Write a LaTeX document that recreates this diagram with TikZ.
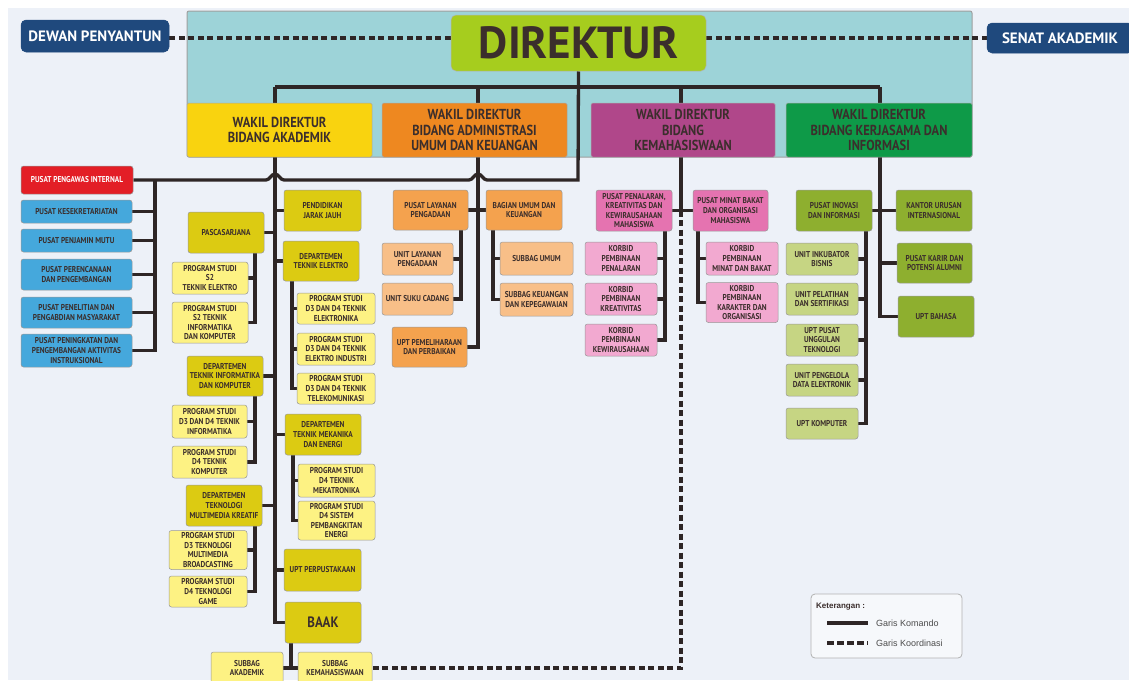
\documentclass[tikz,border=0pt]{standalone}
\usepackage{fontspec}
\setmainfont{PT Sans}
\newfontfamily\cf{PT Sans}[FakeStretch=0.86]
\newfontfamily\lf{Liberation Sans}
\usetikzlibrary{calc}
\pgfdeclarelayer{bg}
\pgfdeclarelayer{lines}
\pgfsetlayers{bg,lines,main}
\definecolor{bgc}{HTML}{EDF1F8}
\definecolor{cyanbg}{HTML}{9DD3D8}
\definecolor{lime}{HTML}{A6CD1E}
\definecolor{navy}{HTML}{1F497D}
\definecolor{wya}{HTML}{F9D30F}
\definecolor{wor}{HTML}{EE8820}
\definecolor{wmg}{HTML}{B0478A}
\definecolor{wgr}{HTML}{0E9A48}
\definecolor{redb}{HTML}{E31E26}
\definecolor{blueb}{HTML}{45A8DC}
\definecolor{dyel}{HTML}{DCCB12}
\definecolor{lyel}{HTML}{FDF283}
\definecolor{mor}{HTML}{F4A24E}
\definecolor{lor}{HTML}{F8BF88}
\definecolor{mpk}{HTML}{E573B0}
\definecolor{lpk}{HTML}{F2A9D0}
\definecolor{olv}{HTML}{8EAF2F}
\definecolor{lolv}{HTML}{C6D583}
\definecolor{txt}{HTML}{3B2E2C}
\definecolor{ln}{HTML}{2E2626}
\tikzset{
  box/.style={rounded corners=2.5pt, draw=black!40, line width=0.5pt, align=center,
    inner sep=0.5pt, font=\cf\bfseries\fontsize{8.5}{9.6}\selectfont, text=txt},
  wak/.style={box, rounded corners=1.5pt, draw=black!35, font=\cf\bfseries\fontsize{14.5}{15.5}\selectfont},
  wh/.style 2 args={minimum width=#1pt, minimum height=#2pt},
  cmd/.style={draw=ln, line width=3.3pt},
  koord/.style={draw=ln, line width=3.3pt, dash pattern=on 6pt off 3.5pt},
}
\begin{document}
\begin{tikzpicture}[x=1pt,y=-1pt]
\useasboundingbox (0,0) rectangle (1129,680);
\begin{pgfonlayer}{bg}
\fill[bgc] (8,8) rectangle (1129,680);
\draw[fill=cyanbg, draw=gray!75, line width=1pt, rounded corners=2pt] (187,11) rectangle (972,157);
\end{pgfonlayer}

% top level
\node[box, rounded corners=5pt, fill=navy, draw=navy, text=white, font=\bfseries\fontsize{15}{16}\selectfont, wh={148}{32}] (dewan) at (95,36) {DEWAN PENYANTUN};
\node[box, rounded corners=5pt, fill=navy, draw=navy, text=white, font=\bfseries\fontsize{15}{16}\selectfont, wh={146}{30}] (senat) at (1060,38) {SENAT AKADEMIK};
\node[box, rounded corners=5pt, fill=lime, draw=black!30, font=\bfseries\fontsize{45}{48}\selectfont, wh={255}{56}] (dir) at (578.5,43) {DIREKTUR};

\node[wak, fill=wya, wh={185}{54}] (wakA) at (279.5,130) {WAKIL DIREKTUR\\BIDANG AKADEMIK};
\node[wak, fill=wor, wh={185}{54}] (wakB) at (474.5,130) {WAKIL DIREKTUR\\BIDANG ADMINISTRASI\\UMUM DAN KEUANGAN};
\node[wak, fill=wmg, wh={184}{54}] (wakC) at (683,130) {WAKIL DIREKTUR\\BIDANG\\KEMAHASISWAAN};
\node[wak, fill=wgr, wh={186}{54}] (wakD) at (879,130) {WAKIL DIREKTUR\\BIDANG KERJASAMA DAN\\INFORMASI};

% left blue column
\node[box, fill=redb, text=white, wh={112}{28}] (pwi) at (77,180) {PUSAT PENGAWAS INTERNAL};
\node[box, fill=blueb, wh={111}{23}] (kes) at (76.5,211.5) {PUSAT KESEKRETARIATAN};
\node[box, fill=blueb, wh={111}{23}] (mutu) at (76.5,240.5) {PUSAT PENJAMIN MUTU};
\node[box, fill=blueb, wh={111}{31}] (ren) at (76.5,274.5) {PUSAT PERENCANAAN\\DAN PENGEMBANGAN};
\node[box, fill=blueb, wh={111}{31}] (lit) at (76.5,312.5) {PUSAT PENELITIAN DAN\\PENGABDIAN MASYARAKAT};
\node[box, fill=blueb, wh={111}{33}] (ppai) at (76.5,350.5) {PUSAT PENINGKATAN DAN\\PENGEMBANGAN AKTIVITAS\\INSTRUKSIONAL};

% akademik
\node[box, fill=dyel, wh={76}{41}] (pasca) at (226,232.5) {PASCASARJANA};
\node[box, fill=lyel, wh={76}{32}] (ps1) at (210,278) {PROGRAM STUDI\\S2\\TEKNIK ELEKTRO};
\node[box, fill=lyel, wh={76}{41}] (ps2) at (210,322.5) {PROGRAM STUDI\\S2 TEKNIK\\INFORMATIKA\\DAN KOMPUTER};
\node[box, fill=dyel, wh={76}{40}] (dtik) at (225,376) {DEPARTEMEN\\TEKNIK INFORMATIKA\\DAN KOMPUTER};
\node[box, fill=lyel, wh={75}{33}] (ps3) at (209.5,421.5) {PROGRAM STUDI\\D3 DAN D4 TEKNIK\\INFORMATIKA};
\node[box, fill=lyel, wh={75}{32}] (ps4) at (209.5,462) {PROGRAM STUDI\\D4 TEKNIK\\KOMPUTER};
\node[box, fill=dyel, wh={76}{41}] (dtmk) at (224,505.5) {DEPARTEMEN\\TEKNOLOGI\\MULTIMEDIA KREATIF};
\node[box, fill=lyel, wh={78}{39}] (ps5) at (208,550) {PROGRAM STUDI\\D3 TEKNOLOGI\\MULTIMEDIA\\BROADCASTING};
\node[box, fill=lyel, wh={78}{31}] (ps6) at (208,591.5) {PROGRAM STUDI\\D4 TEKNOLOGI\\GAME};
\node[box, fill=dyel, wh={77}{41}] (pjj) at (322.5,210.5) {PENDIDIKAN\\JARAK JAUH};
\node[box, fill=dyel, wh={76}{40}] (dte) at (321,261) {DEPARTEMEN\\TEKNIK ELEKTRO};
\node[box, fill=lyel, wh={78}{31}] (ps7) at (336,308.5) {PROGRAM STUDI\\D3 DAN D4 TEKNIK\\ELEKTRONIKA};
\node[box, fill=lyel, wh={78}{32}] (ps8) at (336,349) {PROGRAM STUDI\\D3 DAN D4 TEKNIK\\ELEKTRO INDUSTRI};
\node[box, fill=lyel, wh={78}{31}] (ps9) at (336,388.5) {PROGRAM STUDI\\D3 DAN D4 TEKNIK\\TELEKOMUNIKASI};
\node[box, fill=dyel, wh={76}{41}] (dtme) at (323,434.5) {DEPARTEMEN\\TEKNIK MEKANIKA\\DAN ENERGI};
\node[box, fill=lyel, wh={77}{33}] (ps10) at (336.5,480.5) {PROGRAM STUDI\\D4 TEKNIK\\MEKATRONIKA};
\node[box, fill=lyel, wh={77}{39}] (ps11) at (336.5,520.5) {PROGRAM STUDI\\D4 SISTEM\\PEMBANGKITAN\\ENERGI};
\node[box, fill=dyel, wh={77}{42}] (perpus) at (322.5,570) {UPT PERPUSTAKAAN};
\node[box, fill=dyel, wh={76}{41}, font=\cf\bfseries\fontsize{15}{16}\selectfont] (baak) at (323,622.5) {BAAK};
\node[box, fill=lyel, wh={72}{32}] (sbak) at (247,668) {SUBBAG\\AKADEMIK};
\node[box, fill=lyel, wh={74}{32}] (sbkm) at (335,668) {SUBBAG\\KEMAHASISWAAN};

% administrasi
\node[box, fill=mor, wh={75}{40}] (plp) at (430.5,210) {PUSAT LAYANAN\\PENGADAAN};
\node[box, fill=mor, wh={76}{40}] (bauk) at (524,210) {BAGIAN UMUM DAN\\KEUANGAN};
\node[box, fill=lor, wh={71}{32}] (ulp) at (417.5,259) {UNIT LAYANAN\\PENGADAAN};
\node[box, fill=lor, wh={71}{32}] (usc) at (417.5,299) {UNIT SUKU CADANG};
\node[box, fill=mor, wh={75}{40}] (upp) at (429.5,347) {UPT PEMELIHARAAN\\DAN PERBAIKAN};
\node[box, fill=lor, wh={73}{33}] (sbu) at (536.5,258.5) {SUBBAG UMUM};
\node[box, fill=lor, wh={73}{33}] (sbkk) at (536.5,299.5) {SUBBAG KEUANGAN\\DAN KEPEGAWAIAN};

% kemahasiswaan
\node[box, fill=mpk, wh={76}{41}] (ppk) at (634,210.5) {PUSAT PENALARAN,\\KREATIVITAS DAN\\KEWIRAUSAHAAN\\MAHASISWA};
\node[box, fill=mpk, wh={75}{41}] (pmb) at (730.5,210.5) {PUSAT MINAT BAKAT\\DAN ORGANISASI\\MAHASISWA};
\node[box, fill=lpk, wh={72}{33}] (kb1) at (621,258.5) {KORBID\\PEMBINAAN\\PENALARAN};
\node[box, fill=lpk, wh={72}{32}] (kb2) at (621,299) {KORBID\\PEMBINAAN\\KREATIVITAS};
\node[box, fill=lpk, wh={72}{32}] (kb3) at (621,340) {KORBID\\PEMBINAAN\\KEWIRAUSAHAAN};
\node[box, fill=lpk, wh={72}{33}] (kb4) at (742,258.5) {KORBID\\PEMBINAAN\\MINAT DAN BAKAT};
\node[box, fill=lpk, wh={72}{40}] (kb5) at (742,302.5) {KORBID\\PEMBINAAN\\KARAKTER DAN\\ORGANISASI};

% kerjasama
\node[box, fill=olv, wh={76}{41}] (pii) at (834,210.5) {PUSAT INOVASI\\DAN INFORMASI};
\node[box, fill=olv, wh={76}{41}] (kui) at (934,210.5) {KANTOR URUSAN\\INTERNASIONAL};
\node[box, fill=olv, wh={75}{40}] (pkpa) at (934.5,263) {PUSAT KARIR DAN\\POTENSI ALUMNI};
\node[box, fill=olv, wh={76}{41}] (upb) at (936,316.5) {UPT BAHASA};
\node[box, fill=lolv, wh={72}{32}] (uib) at (822,259) {UNIT INKUBATOR\\BISNIS};
\node[box, fill=lolv, wh={72}{32}] (ups) at (822,299) {UNIT PELATIHAN\\DAN SERTIFIKASI};
\node[box, fill=lolv, wh={72}{32}] (upt) at (822,340) {UPT PUSAT\\UNGGULAN\\TEKNOLOGI};
\node[box, fill=lolv, wh={72}{32}] (upde) at (822,380) {UNIT PENGELOLA\\DATA ELEKTRONIK};
\node[box, fill=lolv, wh={72}{31}] (ukom) at (822,423.5) {UPT KOMPUTER};

% legend
\node[draw=black!30, fill=bgc!50!white, rounded corners=4pt, line width=0.8pt, wh={151}{64}] (leg) at (886.5,626) {};
\node[anchor=west, font=\lf\bfseries\fontsize{8}{9}\selectfont, text=txt, inner sep=0pt] (legt) at (816,607) {Keterangan :};
\coordinate (l1a) at (827,623); \coordinate (l1b) at (868,623);
\coordinate (l2a) at (827,643); \coordinate (l2b) at (868,643);
\node[anchor=west, font=\lf\fontsize{9}{10}\selectfont, text=black!70, inner sep=0pt] (lt1) at (876,623) {Garis Komando};
\node[anchor=west, font=\lf\fontsize{9}{10}\selectfont, text=black!70, inner sep=0pt] (lt2) at (876,643) {Garis Koordinasi};
\draw[cmd] (l1a) -- (l1b);
\draw[koord, dash pattern=on 7pt off 3pt] (l2a) -- (l2b);

\begin{pgfonlayer}{lines}
% coordination lines
\draw[koord] (dewan.east |- senat.west) -- (dir.west |- senat.west);
\draw[koord] (dir.east |- senat.west) -- (senat.west);
% main bar
\coordinate (barL) at (275,87); \coordinate (barR) at (880,87);
\coordinate (barB) at (478,87); \coordinate (barC) at (681,87);
\draw[cmd] (barL) -- (barR);
% internal line with hops
\draw[cmd] (dir.south) -- (578,180) -- (487,180)
  .. controls (483,180) and (482,174) .. (478,174)
  .. controls (474,174) and (473,180) .. (469,180) -- (284,180)
  .. controls (280,180) and (279,174) .. (275,174)
  .. controls (271,174) and (270,180) .. (266,180) -- (pwi.east);
\coordinate (tL) at (155,180);
\foreach \n in {kes,mutu,ren,lit,ppai} \draw[cmd] (tL) |- (\n.east);
% akademik
\draw[cmd] (barL) |- (baak.west);
\foreach \n in {pasca,dtik,dtmk} \draw[cmd] (barL) |- (\n.east);
\foreach \n in {pjj,dte,dtme,perpus} \draw[cmd] (barL) |- (\n.west);
\coordinate (pa) at (255,253);
\foreach \n in {ps1,ps2} \draw[cmd] (pa) |- (\n.east);
\coordinate (ti) at (255,396);
\foreach \n in {ps3,ps4} \draw[cmd] (ti) |- (\n.east);
\coordinate (tm) at (255,526);
\foreach \n in {ps5,ps6} \draw[cmd] (tm) |- (\n.east);
\coordinate (te) at (292,281);
\foreach \n in {ps7,ps8,ps9} \draw[cmd] (te) |- (\n.west);
\coordinate (tme) at (293,455);
\foreach \n in {ps10,ps11} \draw[cmd] (tme) |- (\n.west);
\coordinate (tb) at (291,643);
\draw[cmd] (tb) -- (291,668);
\draw[cmd] (sbak.east) -- (sbkm.west);
% administrasi
\draw[cmd] (barB) |- (upp.east);
\draw[cmd] (plp.east) -- (bauk.west);
\coordinate (tp) at (461,230);
\foreach \n in {ulp,usc} \draw[cmd] (tp) |- (\n.east);
\coordinate (tu) at (493,230);
\foreach \n in {sbu,sbkk} \draw[cmd] (tu) |- (\n.west);
% kemahasiswaan
\coordinate (kj) at (681,210.5);
\draw[cmd] (barC) -- (kj);
\draw[cmd] (ppk.east) -- (pmb.west);
\draw[koord] (kj) -- (681,668) -- (sbkm.east);
\coordinate (tk1) at (665,231);
\foreach \n in {kb1,kb2,kb3} \draw[cmd] (tk1) |- (\n.east);
\coordinate (tk2) at (698,231);
\foreach \n in {kb4,kb5} \draw[cmd] (tk2) |- (\n.west);
% kerjasama
\draw[cmd] (barR) |- (upb.west);
\draw[cmd] (barR) |- (pkpa.west);
\draw[cmd] (pii.east) -- (kui.west);
\coordinate (ti2) at (866,231);
\foreach \n in {uib,ups,upt,upde,ukom} \draw[cmd] (ti2) |- (\n.east);
\end{pgfonlayer}
\end{tikzpicture}
\end{document}
